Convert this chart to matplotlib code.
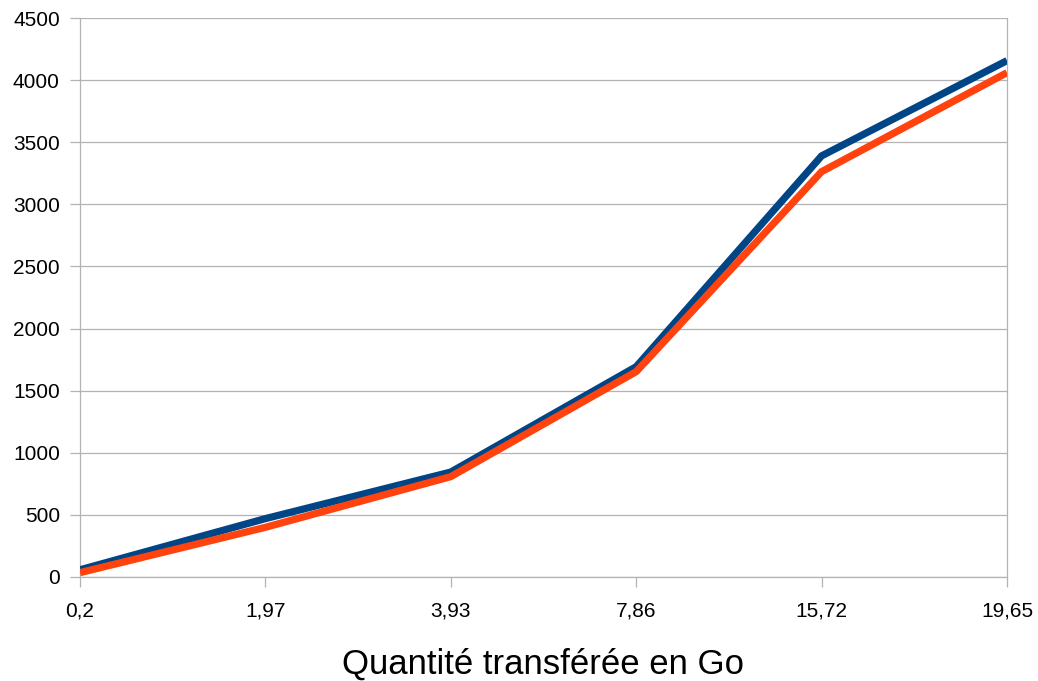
import matplotlib
matplotlib.use("Agg")
import matplotlib.pyplot as plt

# taille transférée (Go) et durées des deux séries
categories = ["0,2", "1,97", "3,93", "7,86", "15,72", "19,65"]
serie_bleue = [58, 470, 845, 1693, 3390, 4157]
serie_orange = [35, 400, 808, 1653, 3263, 4060]
yticks = list(range(0, 4501, 500))

plt.rcParams['font.family'] = ['Liberation Sans', 'DejaVu Sans']

fig = plt.figure(figsize=(10.38, 6.81), dpi=100)
ax = fig.add_axes([80 / 1038, 1 - 577 / 681, (1007 - 80) / 1038, (577 - 18) / 681])

x = list(range(len(categories)))
grid_col = "#b3b3b3"

for v in yticks:
    ax.axhline(v, color=grid_col, lw=0.9, zorder=0)

ax.plot(x, serie_bleue, color="#004586", lw=5.2, solid_capstyle="butt",
        solid_joinstyle="miter", zorder=3)
ax.plot(x, serie_orange, color="#ff420e", lw=5.2, solid_capstyle="butt",
        solid_joinstyle="miter", zorder=4)

ax.set_xlim(0, len(categories) - 1)
ax.set_ylim(0, 4500)
ax.set_xticks(x)
ax.set_xticklabels(categories)
ax.set_yticks(yticks)
ax.set_yticklabels([str(v) for v in yticks])

ax.spines["top"].set_visible(False)
for side in ["left", "bottom", "right"]:
    ax.spines[side].set_color(grid_col)
    ax.spines[side].set_linewidth(0.9)

ax.tick_params(axis="both", colors=grid_col, labelcolor="black", labelsize=15,
               length=7.5, width=0.9, direction="out")
ax.tick_params(axis="y", pad=7)
ax.tick_params(axis="x", pad=10)

ax.set_xlabel("Quantité transférée en Go", fontsize=25, labelpad=20)

fig.savefig("out.png", dpi=100, facecolor="white")
